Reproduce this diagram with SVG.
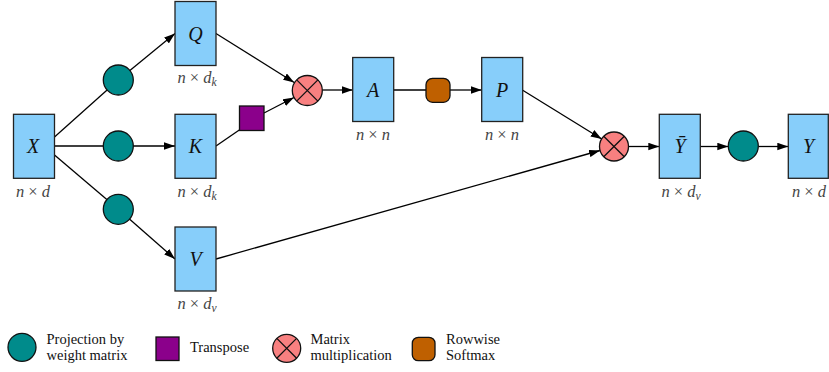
<svg xmlns="http://www.w3.org/2000/svg" width="829" height="372" viewBox="0 0 829 372">
<defs>
<marker id="arr" markerUnits="userSpaceOnUse" markerWidth="12" markerHeight="8" refX="11" refY="3.75" orient="auto">
<path d="M0,0 L11,3.75 L0,7.5 z" fill="#000"/>
</marker>
<style>
.box{fill:#87CEFA;stroke:#222;stroke-width:1.3}
.proj{fill:#008B8B;stroke:#111;stroke-width:1.3}
.tr{fill:#8B008B;stroke:#111;stroke-width:1.3}
.mul{fill:#F88080;stroke:#111;stroke-width:1.3}
.sm{fill:#BF6000;stroke:#111;stroke-width:1.3}
.x{stroke:#111;stroke-width:1.3;fill:none}
.ln{stroke:#000;stroke-width:1.3;fill:none}
.ar{marker-end:url(#arr)}
</style>
</defs>
<g id="connectors">
<line class="ln" x1="54.5" y1="137" x2="118.3" y2="80"/>
<line class="ln ar" x1="118.3" y1="80" x2="175" y2="33.5"/>
<line class="ln ar" x1="54.5" y1="146" x2="175" y2="146"/>
<line class="ln" x1="54.5" y1="155" x2="118.3" y2="209.3"/>
<line class="ln ar" x1="118.3" y1="209.3" x2="175" y2="259"/>
<line class="ln ar" x1="216" y1="33.5" x2="294.2" y2="82.5"/>
<line class="ln" x1="216" y1="146" x2="240" y2="129.5"/>
<line class="ln ar" x1="264" y1="113" x2="294" y2="97.5"/>
<line class="ln ar" x1="322.3" y1="90" x2="352.7" y2="90"/>
<line class="ln" x1="393.3" y1="90" x2="426" y2="90"/>
<line class="ln ar" x1="450" y1="90" x2="481.7" y2="90"/>
<line class="ln ar" x1="522.3" y1="90" x2="601.7" y2="139"/>
<line class="ln ar" x1="216" y1="259" x2="600" y2="150.5"/>
<line class="ln ar" x1="628.5" y1="146.5" x2="659.3" y2="146.5"/>
<line class="ln ar" x1="700" y1="146.5" x2="728.3" y2="146.5"/>
<line class="ln ar" x1="758.3" y1="146.5" x2="788.3" y2="146.5"/>
</g>
<g font-family="Liberation Serif, serif" font-style="italic" text-anchor="middle">
<g id="X"><rect class="box" x="13.5" y="114.3" width="41" height="64"/><text font-size="20" fill="#111" x="33" y="153">X</text><text font-size="16.5" fill="#444" x="33" y="197">n <tspan font-style="normal">×</tspan> d</text></g>
<g id="Q"><rect class="box" x="175" y="1.5" width="41" height="64"/><text font-size="20" fill="#111" x="195.5" y="40.5">Q</text><text font-size="16.5" fill="#444" x="197" y="83">n <tspan font-style="normal">×</tspan> d<tspan font-size="11.5" dy="3">k</tspan></text></g>
<g id="K"><rect class="box" x="175" y="114.3" width="41" height="64"/><text font-size="20" fill="#111" x="195.5" y="153">K</text><text font-size="16.5" fill="#444" x="197" y="197">n <tspan font-style="normal">×</tspan> d<tspan font-size="11.5" dy="3">k</tspan></text></g>
<g id="V"><rect class="box" x="175" y="227" width="41" height="64"/><text font-size="20" fill="#111" x="195.5" y="266">V</text><text font-size="16.5" fill="#444" x="197" y="308.5">n <tspan font-style="normal">×</tspan> d<tspan font-size="11.5" dy="3">v</tspan></text></g>
<g id="A"><rect class="box" x="352.7" y="57.5" width="41" height="64"/><text font-size="20" fill="#111" x="373" y="96.5">A</text><text font-size="16.5" fill="#444" x="373" y="139.5">n <tspan font-style="normal">×</tspan> n</text></g>
<g id="P"><rect class="box" x="481.7" y="57.5" width="41" height="64"/><text font-size="20" fill="#111" x="502" y="96.5">P</text><text font-size="16.5" fill="#444" x="502" y="139.5">n <tspan font-style="normal">×</tspan> n</text></g>
<g id="Ybar"><rect class="box" x="659.3" y="114.3" width="41" height="64"/><text font-size="20" fill="#111" x="680" y="153">Ȳ</text><text font-size="16.5" fill="#444" x="681" y="197">n <tspan font-style="normal">×</tspan> d<tspan font-size="11.5" dy="3">v</tspan></text></g>
<g id="Y"><rect class="box" x="788.3" y="114.3" width="40" height="64"/><text font-size="20" fill="#111" x="808.5" y="153">Y</text><text font-size="16.5" fill="#444" x="809" y="197">n <tspan font-style="normal">×</tspan> d</text></g>
</g>
<g id="projQ"><circle class="proj" cx="118.3" cy="80" r="15"/></g>
<g id="projK"><circle class="proj" cx="118.3" cy="146" r="15"/></g>
<g id="projV"><circle class="proj" cx="118.3" cy="209.3" r="15"/></g>
<g id="projY"><circle class="proj" cx="743.3" cy="146" r="15"/></g>
<g id="transpose"><rect class="tr" x="239.5" y="106" width="24.5" height="24.5"/></g>
<g id="mult1"><circle class="mul" cx="307.3" cy="90.5" r="15"/><path class="x" d="M296.7,79.9 L317.9,101.1 M317.9,79.9 L296.7,101.1"/></g>
<g id="softmax"><rect class="sm" x="426" y="78.3" width="24" height="24" rx="6.5"/></g>
<g id="mult2"><circle class="mul" cx="614" cy="146.5" r="14.5"/><path class="x" d="M603.7,136.2 L624.3,156.8 M624.3,136.2 L603.7,156.8"/></g>
<g id="legend" font-family="Liberation Serif, serif" font-size="14.5" fill="#111">
<circle class="proj" cx="22" cy="347.3" r="14"/>
<text x="46.5" y="343.5">Projection by</text>
<text x="46.5" y="360">weight matrix</text>
<rect class="tr" x="156" y="337" width="23" height="23.5"/>
<text x="190" y="352">Transpose</text>
<circle class="mul" cx="286.7" cy="348.3" r="14"/>
<path class="x" d="M276.8,338.4 L296.6,358.2 M296.6,338.4 L276.8,358.2"/>
<text x="310.5" y="343.5">Matrix</text>
<text x="310.5" y="360">multiplication</text>
<rect class="sm" x="412.3" y="337.3" width="22.7" height="23.4" rx="6"/>
<text x="446" y="343.5">Rowwise</text>
<text x="446" y="360">Softmax</text>
</g>
</svg>
